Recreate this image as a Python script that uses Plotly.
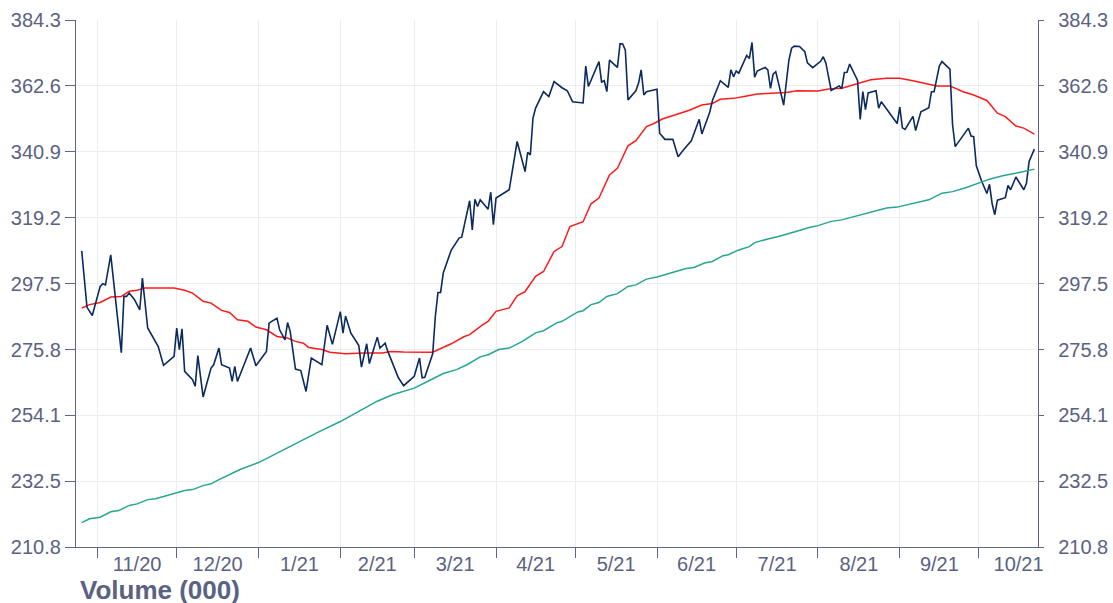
import plotly.graph_objects as go

# ---- price series ----
price_dates = [
 "2020-10-26","2020-10-28","2020-10-30","2020-11-02","2020-11-03","2020-11-04","2020-11-06","2020-11-09",
 "2020-11-10","2020-11-11","2020-11-12","2020-11-13","2020-11-15","2020-11-17","2020-11-18","2020-11-20",
 "2020-11-24","2020-11-26","2020-11-30","2020-12-01","2020-12-02","2020-12-03","2020-12-04","2020-12-07",
 "2020-12-08","2020-12-09","2020-12-11","2020-12-14","2020-12-15","2020-12-17","2020-12-18","2020-12-21",
 "2020-12-22","2020-12-23","2020-12-24","2020-12-29","2020-12-31","2021-01-04","2021-01-05","2021-01-06",
 "2021-01-08","2021-01-09","2021-01-11","2021-01-12","2021-01-13","2021-01-15","2021-01-17","2021-01-19",
 "2021-01-21","2021-01-25","2021-01-27","2021-01-29","2021-02-01","2021-02-02","2021-02-03","2021-02-05",
 "2021-02-08","2021-02-09","2021-02-11","2021-02-12","2021-02-15","2021-02-16","2021-02-18","2021-02-19",
 "2021-02-23","2021-02-25","2021-03-01","2021-03-03","2021-03-04","2021-03-05","2021-03-08","2021-03-09",
 "2021-03-10","2021-03-11","2021-03-12","2021-03-15","2021-03-18","2021-03-19","2021-03-22","2021-03-23",
 "2021-03-24","2021-03-25","2021-03-26","2021-03-29","2021-03-30","2021-03-31","2021-04-01","2021-04-06",
 "2021-04-09","2021-04-12","2021-04-13","2021-04-14","2021-04-15","2021-04-16","2021-04-19","2021-04-21",
 "2021-04-23","2021-04-26","2021-04-28","2021-04-30","2021-05-04","2021-05-05","2021-05-06","2021-05-10",
 "2021-05-11","2021-05-12","2021-05-13","2021-05-14","2021-05-17","2021-05-18","2021-05-19","2021-05-20",
 "2021-05-21","2021-05-24","2021-05-25","2021-05-26","2021-05-27","2021-05-28","2021-06-01","2021-06-02",
 "2021-06-04","2021-06-07","2021-06-09","2021-06-11","2021-06-14","2021-06-17","2021-06-18","2021-06-21",
 "2021-06-22","2021-06-25","2021-06-28","2021-06-29","2021-06-30","2021-07-01","2021-07-02","2021-07-05",
 "2021-07-06","2021-07-07","2021-07-08","2021-07-09","2021-07-12","2021-07-13","2021-07-14","2021-07-15",
 "2021-07-16","2021-07-19","2021-07-21","2021-07-22","2021-07-23","2021-07-25","2021-07-27","2021-07-28",
 "2021-07-30","2021-08-02","2021-08-03","2021-08-04","2021-08-06","2021-08-09","2021-08-10","2021-08-11",
 "2021-08-12","2021-08-13","2021-08-16","2021-08-17","2021-08-18","2021-08-19","2021-08-20","2021-08-23",
 "2021-08-24","2021-08-25","2021-08-31","2021-09-01","2021-09-02","2021-09-03","2021-09-06","2021-09-07",
 "2021-09-09","2021-09-12","2021-09-13","2021-09-14","2021-09-16","2021-09-17","2021-09-20","2021-09-21",
 "2021-09-22","2021-09-27","2021-09-28","2021-09-29","2021-09-30","2021-10-02","2021-10-04","2021-10-05",
 "2021-10-06","2021-10-07","2021-10-08","2021-10-11","2021-10-12","2021-10-13","2021-10-15","2021-10-18",
 "2021-10-19","2021-10-20","2021-10-22",
]
price_values = [
 308.3,289.7,287.0,296.6,297.5,297.1,307.0,282.3,
 274.8,293.3,293.3,294.4,292.2,288.9,299.3,282.9,
 276.8,270.6,273.6,282.9,275.8,282.6,268.6,265.9,
 263.7,273.8,260.2,269.7,270.8,276.3,270.8,269.7,
 265.3,270.3,265.3,276.3,270.5,275.2,284.5,285.1,
 286.1,282.3,279.0,284.7,281.8,269.4,268.9,262.0,
 273.0,270.8,283.8,277.5,288.3,281.2,286.8,281.2,
 277.1,270.0,277.7,271.2,279.9,276.3,277.9,275.2,
 266.5,263.9,267.0,273.0,266.5,266.7,274.4,286.7,
 294.6,294.6,301.0,308.5,312.5,312.8,324.8,315.2,
 325.3,322.9,325.1,322.0,327.6,316.9,325.7,328.4,
 344.3,334.4,340.7,339.9,352.0,355.3,360.7,359.1,
 364.0,362.0,361.0,357.4,357.0,369.1,362.4,370.6,
 363.9,364.3,360.7,371.1,368.7,376.5,376.4,374.4,
 358.0,361.0,363.5,367.9,359.6,360.7,361.5,347.0,
 345.0,345.0,339.3,341.5,344.5,351.6,346.8,354.0,
 357.8,364.3,362.1,367.9,365.6,367.5,366.8,372.6,
 371.6,376.9,365.5,367.5,368.7,367.9,361.8,366.5,
 367.3,356.3,371.2,375.0,375.7,375.6,373.9,370.2,
 368.6,370.7,372.2,370.1,361.1,362.6,361.7,367.0,
 367.1,369.8,364.4,351.6,360.7,354.8,360.3,361.0,
 355.3,357.4,350.2,355.6,348.8,348.3,352.6,347.9,
 354.1,355.4,360.7,360.7,369.2,370.6,368.1,349.8,
 342.6,348.7,346.1,345.9,336.3,331.3,327.2,330.2,
 323.8,320.2,325.0,325.8,329.8,328.4,332.6,328.4,
 330.5,337.7,341.8,
]

# ---- short moving average (red) ----
ma_short_dates = [
 "2020-10-26","2020-10-29","2020-11-02","2020-11-06","2020-11-10","2020-11-13","2020-11-16","2020-11-19",
 "2020-11-23","2020-11-30","2020-12-04","2020-12-07","2020-12-11","2020-12-14","2020-12-18","2020-12-21",
 "2020-12-24","2020-12-28","2020-12-31","2021-01-04","2021-01-08","2021-01-12","2021-01-15","2021-01-18",
 "2021-01-20","2021-01-25","2021-01-28","2021-02-03","2021-02-10","2021-02-17","2021-02-20","2021-02-25",
 "2021-03-08","2021-03-13","2021-03-15","2021-03-20","2021-03-22","2021-03-27","2021-03-29","2021-04-01",
 "2021-04-06","2021-04-09","2021-04-12","2021-04-16","2021-04-19","2021-04-23","2021-04-26","2021-04-29",
 "2021-05-04","2021-05-07","2021-05-10","2021-05-14","2021-05-17","2021-05-21","2021-05-24","2021-05-28",
 "2021-05-31","2021-06-03","2021-06-09","2021-06-13","2021-06-18","2021-06-22","2021-06-25","2021-06-30",
 "2021-07-05","2021-07-09","2021-07-20","2021-07-24","2021-08-01","2021-08-05","2021-08-10","2021-08-14",
 "2021-08-21","2021-08-27","2021-09-01","2021-09-06","2021-09-11","2021-09-15","2021-09-20","2021-09-25",
 "2021-09-29","2021-10-04","2021-10-08","2021-10-11","2021-10-15","2021-10-18","2021-10-22",
]
ma_short_values = [
 289.5,290.6,291.3,293.1,293.3,295.0,295.3,296.1,
 296.1,296.1,295.3,294.4,291.7,291.1,288.7,288.0,
 285.6,285.1,283.2,282.3,280.1,279.6,278.5,277.9,
 276.5,275.8,274.9,274.4,274.7,274.7,275.2,275.0,
 274.9,276.8,277.7,280.1,280.7,284.0,285.1,288.4,
 289.5,293.5,294.9,299.9,301.5,308.1,309.7,316.3,
 317.9,323.8,325.7,333.3,335.5,342.9,344.6,349.2,
 350.3,351.7,353.4,354.5,356.3,356.8,358.2,358.5,
 359.3,359.9,360.4,361.0,360.9,361.6,361.8,362.9,
 364.6,365.1,365.1,364.3,363.3,362.6,362.6,360.7,
 359.6,357.8,353.6,352.5,349.4,348.7,346.7,
]

# ---- long moving average (teal) ----
ma_long_dates = [
 "2020-10-26","2020-10-29","2020-11-02","2020-11-06","2020-11-09","2020-11-13","2020-11-16","2020-11-20",
 "2020-11-23","2020-11-27","2020-11-30","2020-12-04","2020-12-07","2020-12-11","2020-12-14","2020-12-17",
 "2020-12-25","2021-01-01","2021-01-09","2021-01-16","2021-01-24","2021-02-01","2021-02-09","2021-02-15",
 "2021-02-21","2021-02-26","2021-03-01","2021-03-06","2021-03-12","2021-03-17","2021-03-21","2021-03-26",
 "2021-03-29","2021-04-02","2021-04-06","2021-04-11","2021-04-16","2021-04-19","2021-04-24","2021-04-26",
 "2021-05-02","2021-05-04","2021-05-07","2021-05-10","2021-05-13","2021-05-17","2021-05-21","2021-05-24",
 "2021-05-28","2021-06-01","2021-06-05","2021-06-07","2021-06-12","2021-06-15","2021-06-19","2021-06-22",
 "2021-06-26","2021-06-28","2021-07-02","2021-07-06","2021-07-08","2021-07-13","2021-07-17","2021-07-23",
 "2021-07-29","2021-08-01","2021-08-06","2021-08-10","2021-08-15","2021-08-20","2021-08-27","2021-08-31",
 "2021-09-06","2021-09-12","2021-09-17","2021-09-21","2021-09-26","2021-10-01","2021-10-05","2021-10-10",
 "2021-10-14","2021-10-18","2021-10-22",
]
ma_long_values = [
 218.8,220.1,220.6,222.4,222.8,224.5,225.0,226.4,
 226.7,227.8,228.4,229.4,229.7,231.0,231.6,233.0,
 236.3,238.6,242.2,245.2,248.8,252.1,256.0,258.8,
 261.0,262.4,263.1,265.3,267.9,269.2,270.8,273.4,
 274.1,275.8,276.3,278.5,281.3,282.0,284.6,285.1,
 288.2,288.6,290.6,291.3,293.3,294.2,296.6,297.1,
 299.0,299.7,300.8,301.2,302.5,302.8,304.3,304.8,
 306.7,307.0,308.6,309.7,311.0,312.2,313.0,314.5,
 316.1,316.6,318.0,318.5,319.6,320.7,322.4,322.7,
 324.0,325.1,327.3,327.8,329.1,330.6,331.9,333.0,
 333.6,334.4,335.2,
]

y_ticks = [210.8, 232.5, 254.1, 275.8, 297.5, 319.2, 340.9, 362.6, 384.3]
y_range = [210.8, 384.3]
x_range = ["2020-10-23 20:00", "2021-10-23 09:00"]
subtitle = "Volume (000)"

TEXT = "#5a6282"
AXIS = "#5f6684"
GRID = "#ececf3"
FONT = "Arial, Liberation Sans, sans-serif"

fig = go.Figure()
fig.add_trace(go.Scatter(x=ma_short_dates, y=ma_short_values, mode="lines",
                         line=dict(color="#ff1a1a", width=1.5), showlegend=False))
fig.add_trace(go.Scatter(x=ma_long_dates, y=ma_long_values, mode="lines",
                         line=dict(color="#26a594", width=1.5), showlegend=False, yaxis="y2"))
fig.add_trace(go.Scatter(x=price_dates, y=price_values, mode="lines",
                         line=dict(color="#0b2a5e", width=1.6), showlegend=False))

yax_common = dict(range=y_range, tickvals=y_ticks, ticktext=[f"{v:.1f}" for v in y_ticks],
                  showline=True, linecolor=AXIS, linewidth=1.3, ticks="outside",
                  tickcolor=AXIS, tickfont=dict(family=FONT, size=20, color=TEXT),
                  zeroline=False, fixedrange=True, automargin=False)

fig.update_layout(
    width=1113, height=603,
    margin=dict(l=76, r=75, t=20, b=56),
    paper_bgcolor="white", plot_bgcolor="white",
    font=dict(family=FONT, color=TEXT),
    xaxis=dict(type="date", range=x_range, dtick="M1", tick0="2020-11-01",
               tickformat="%-m/%y", ticklabelmode="period", automargin=False,
               showgrid=True, gridcolor=GRID, gridwidth=1,
               showline=True, linecolor=AXIS, linewidth=1.3,
               ticks="outside", ticklen=10, tickcolor=AXIS, ticklabelstandoff=-11,
               tickfont=dict(family=FONT, size=20, color=TEXT), zeroline=False),
    yaxis=dict(**yax_common, side="left", ticklen=10, showgrid=True, gridcolor=GRID, gridwidth=1),
    yaxis2=dict(**yax_common, side="right", overlaying="y", ticklen=5, ticklabelstandoff=10,
                showgrid=False),
    annotations=[dict(text=f"<b>{subtitle}</b>", xref="paper", yref="paper",
                      x=0.002, y=-0.081, xanchor="left", yanchor="middle",
                      showarrow=False, font=dict(family=FONT, size=26, color=TEXT))],
)

fig.write_html("out.html", config={"displayModeBar": False},
               post_script="document.body.style.margin='0';document.body.style.overflow='hidden';")
